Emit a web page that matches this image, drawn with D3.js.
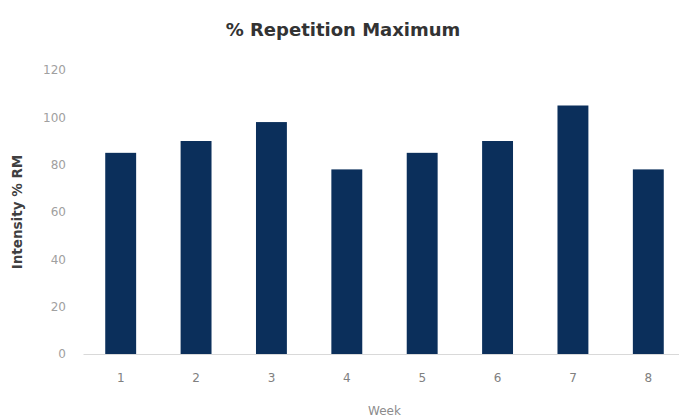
<!DOCTYPE html>
<html>
<head>
<meta charset="utf-8">
<script src="https://cdn.jsdelivr.net/npm/d3@7"></script>
<style>
  html, body { margin: 0; padding: 0; background: #ffffff; }
  svg { display: block; font-family: "DejaVu Sans", Verdana, sans-serif; }
</style>
</head>
<body>
<svg id="chart" width="679" height="417"></svg>
<script>
// Weekly training intensity as % of repetition maximum
const weeks = ["1", "2", "3", "4", "5", "6", "7", "8"];
const intensity = [85, 90, 98, 78, 85, 90, 105, 78];
const yTicks = [0, 20, 40, 60, 80, 100, 120];

const titleText = "% Repetition Maximum";
const xTitle = "Week";
const yTitle = "Intensity % RM";

const fontStack = "\"DejaVu Sans\", Verdana, sans-serif";
const svg = d3.select("#chart");

const plot = { left: 83, right: 686, top: 70, bottom: 354 };

const x = d3.scaleBand()
  .domain(weeks)
  .range([plot.left, plot.right])
  .paddingInner(0.59)
  .paddingOuter(0.295);

const y = d3.scaleLinear()
  .domain([0, 120])
  .range([plot.bottom, plot.top]);

// Title
svg.append("text")
  .attr("x", 343)
  .attr("y", 36)
  .attr("text-anchor", "middle")
  .attr("font-size", 18)
  .attr("font-weight", "bold")
  .attr("fill", "#333333")
  .text(titleText);

// Y axis (labels only, no line)
const yAxis = d3.axisLeft(y).tickValues(yTicks).tickSize(0).tickPadding(0);
const gy = svg.append("g")
  .attr("transform", `translate(66,0)`)
  .call(yAxis);
gy.select(".domain").remove();
gy.selectAll("text")
  .attr("font-size", 12)
  .attr("font-family", fontStack)
  .attr("fill", "#a0a0a0");

// Bars
svg.append("g")
  .selectAll("rect")
  .data(weeks.map((w, i) => ({ week: w, value: intensity[i] })))
  .join("rect")
  .attr("x", d => x(d.week))
  .attr("y", d => y(d.value))
  .attr("width", x.bandwidth())
  .attr("height", d => y(0) - y(d.value))
  .attr("fill", "#0b2f5b");

// X axis: baseline and category labels
const xAxis = d3.axisBottom(x).tickSize(0).tickPadding(0);
const gx = svg.append("g")
  .attr("transform", `translate(0,${plot.bottom})`)
  .call(xAxis);
gx.select(".domain")
  .attr("stroke", "#d9d9d9")
  .attr("stroke-width", 1);
gx.selectAll("text")
  .attr("font-size", 12)
  .attr("font-family", fontStack)
  .attr("fill", "#808080")
  .attr("dy", "0")
  .attr("y", 28);

// Axis titles
svg.append("text")
  .attr("x", (plot.left + plot.right) / 2)
  .attr("y", 415)
  .attr("text-anchor", "middle")
  .attr("font-size", 12)
  .attr("fill", "#8c8c8c")
  .text(xTitle);

svg.append("text")
  .attr("transform", `translate(22,${(plot.top + plot.bottom) / 2}) rotate(-90)`)
  .attr("text-anchor", "middle")
  .attr("font-size", 13.5)
  .attr("font-weight", "bold")
  .attr("fill", "#404040")
  .text(yTitle);
</script>
</body>
</html>
